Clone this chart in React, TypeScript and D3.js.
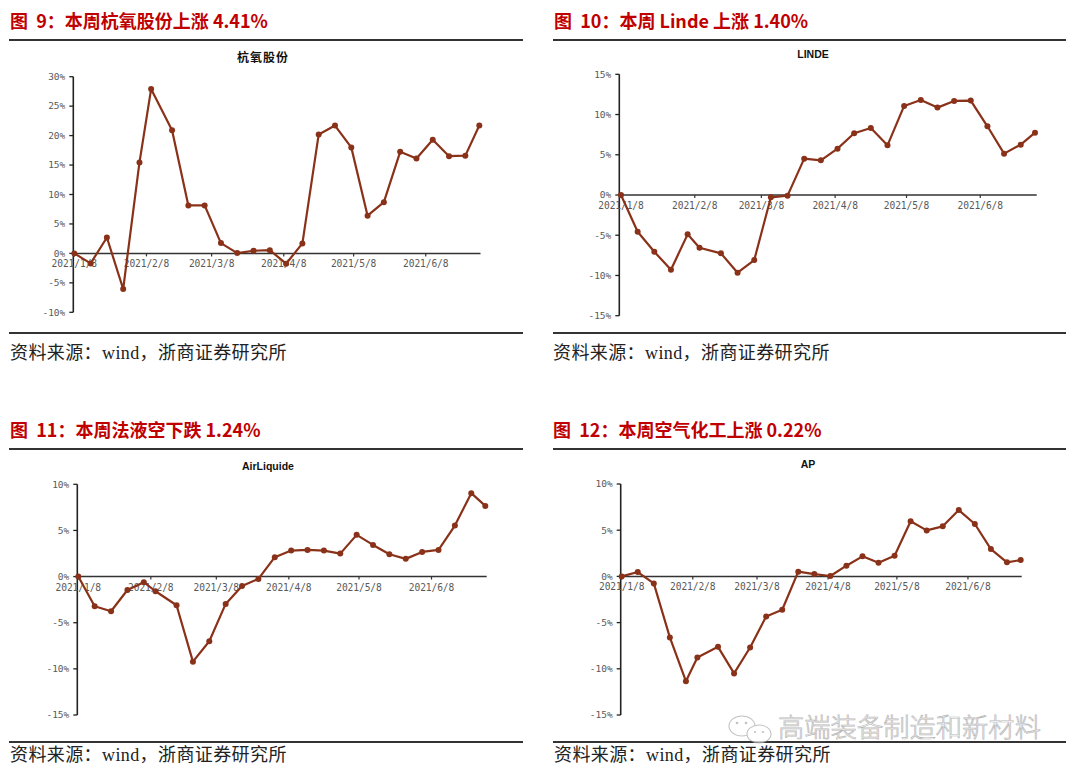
import React from "react";
import * as d3 from "d3";

const DATES = [
  "2021-01-08", "2021-01-15", "2021-01-22", "2021-01-29", "2021-02-05", "2021-02-10",
  "2021-02-19", "2021-02-26", "2021-03-05", "2021-03-12", "2021-03-19", "2021-03-26",
  "2021-04-02", "2021-04-09", "2021-04-16", "2021-04-23", "2021-04-30", "2021-05-07",
  "2021-05-14", "2021-05-21", "2021-05-28", "2021-06-04", "2021-06-11", "2021-06-18",
  "2021-06-25", "2021-07-01",
];
const X_TICKS = ["2021-01-08", "2021-02-08", "2021-03-08", "2021-04-08", "2021-05-08", "2021-06-08"];

const HANGYANG = [0, -1.7, 2.7, -6.05, 15.45, 27.9, 20.9, 8.15, 8.15, 1.75, 0.05, 0.45, 0.55, -1.75, 1.7, 20.2, 21.7, 18.0, 6.4, 8.7, 17.25, 16.1, 19.3, 16.5, 16.6, 21.7];
const LINDE = [0, -4.56, -7.05, -9.28, -4.89, -6.55, -7.25, -9.66, -8.08, -0.29, -0.08, 4.52, 4.31, 5.76, 7.67, 8.33, 6.17, 11.07, 11.81, 10.86, 11.69, 11.73, 8.54, 5.14, 6.26, 7.75];
const AIRLIQUIDE = [0, -3.22, -3.76, -1.45, -0.61, -1.59, -3.11, -9.22, -7.01, -2.96, -1.01, -0.25, 2.1, 2.82, 2.89, 2.82, 2.49, 4.52, 3.43, 2.42, 1.92, 2.67, 2.89, 5.53, 9.04, 7.66];
const AP = [0, 0.47, -0.76, -6.6, -11.34, -8.77, -7.62, -10.5, -7.69, -4.33, -3.61, 0.51, 0.25, 0.04, 1.16, 2.17, 1.48, 2.24, 5.96, 4.98, 5.42, 7.18, 5.67, 2.96, 1.52, 1.77];

const TICKS_HANGYANG = [-10, -5, 0, 5, 10, 15, 20, 25, 30];
const TICKS_LINDE = [-15, -10, -5, 0, 5, 10, 15];
const TICKS_AIRLIQUIDE = [-15, -10, -5, 0, 5, 10];
const TICKS_AP = [-15, -10, -5, 0, 5, 10];

const FIG_TITLES = [
  "图\u00a0\u00a09：本周杭氧股份上涨 4.41%",
  "图\u00a0\u00a010：本周 Linde 上涨 1.40%",
  "图\u00a0\u00a011：本周法液空下跌 1.24%",
  "图\u00a0\u00a012：本周空气化工上涨 0.22%",
];
const CHART_TITLES = ["杭氧股份", "LINDE", "AirLiquide", "AP"];

const LINE_COLOR = "#8A3219";
const RED = "#C00000";
const CJK = "'Noto Sans CJK SC', 'Noto Sans', sans-serif";
const MONO = "'DejaVu Sans Mono', 'Liberation Mono', monospace";

const parse = d3.timeParse("%Y-%m-%d");
const fmt = d3.timeFormat("%Y/%-m/%-d");

type Layout = {
  axisX: number;
  x0: number;
  x1: number;
  xEnd: number;
  yTop: number;
  yBot: number;
  titleX: number;
  titleY: number;
  chartTitleX: number;
  chartTitleY: number;
  ruleTop: number;
  ruleBot: number;
  ruleX0: number;
  ruleX1: number;
  sourceX: number;
  sourceY: number;
};

function Panel({ layout, values, ticks, figTitle, chartTitle, cjkTitle }: {
  layout: Layout; values: number[]; ticks: number[]; figTitle: string; chartTitle: string; cjkTitle: boolean;
}) {
  const L = layout;
  const x = d3.scaleTime()
    .domain([parse(DATES[0])!, parse(DATES[DATES.length - 1])!])
    .range([L.x0, L.x1]);
  const y = d3.scaleLinear()
    .domain([ticks[0], ticks[ticks.length - 1]])
    .range([L.yBot, L.yTop]);
  const pts = DATES.map((d, i) => [x(parse(d)!), y(values[i])] as [number, number]);
  const line = d3.line()(pts) || "";
  const y0 = y(0);
  return (
    <g>
      <text x={L.titleX} y={L.titleY} fill={RED} fontFamily={CJK} fontWeight={700} fontSize={18}>
        {figTitle}
      </text>
      <line x1={L.ruleX0} x2={L.ruleX1} y1={L.ruleTop} y2={L.ruleTop} stroke="#333" strokeWidth={2} />
      <text
        x={L.chartTitleX}
        y={L.chartTitleY}
        textAnchor="middle"
        fill="#111"
        fontFamily={cjkTitle ? CJK : "'Liberation Sans', Arial, sans-serif"}
        fontWeight={700}
        fontSize={cjkTitle ? 12 : 10.5}
        letterSpacing={cjkTitle ? 1 : 0}
      >
        {chartTitle}
      </text>
      {/* y axis */}
      <line x1={L.axisX} x2={L.axisX} y1={L.yTop} y2={L.yBot} stroke="#222" strokeWidth={1.6} />
      {ticks.map((t) => (
        <g key={t}>
          <line x1={L.axisX - 4} x2={L.axisX} y1={y(t)} y2={y(t)} stroke="#222" strokeWidth={1.3} />
          <text
            x={L.axisX - 8}
            y={y(t)}
            dy="0.35em"
            textAnchor="end"
            fill="#595959"
            fontFamily={MONO}
            fontSize={9.5}
          >
            {t + "%"}
          </text>
        </g>
      ))}
      {/* x axis at zero */}
      <line x1={L.axisX} x2={L.xEnd} y1={y0} y2={y0} stroke="#333" strokeWidth={1.5} />
      {X_TICKS.map((d) => {
        const xx = x(parse(d)!);
        return (
          <g key={d}>
            <line x1={xx} x2={xx} y1={y0} y2={y0 + 3} stroke="#333" strokeWidth={1.2} />
            <text
              x={xx}
              y={y0 + 14}
              textAnchor="middle"
              fill="#595959"
              fontFamily={MONO}
              fontSize={9.6}
              letterSpacing={-0.1}
            >
              {fmt(parse(d)!)}
            </text>
          </g>
        );
      })}
      <path d={line} fill="none" stroke={LINE_COLOR} strokeWidth={2.2} strokeLinejoin="round" />
      {pts.map((p, i) => (
        <circle key={i} cx={p[0]} cy={p[1]} r={3} fill={LINE_COLOR} />
      ))}
      <line x1={L.ruleX0} x2={L.ruleX1} y1={L.ruleBot} y2={L.ruleBot} stroke="#333" strokeWidth={2} />
      <text x={L.sourceX} y={L.sourceY} fill="#222" fontFamily={CJK} fontSize={18} letterSpacing={0.4}>
        资料来源：
        <tspan fontFamily="'Liberation Serif', serif">wind</tspan>
        ，浙商证券研究所
      </text>
    </g>
  );
}

const LAYOUTS: Layout[] = [
  {
    axisX: 73.3, x0: 74.3, x1: 479.3, xEnd: 480.5, yTop: 76.7, yBot: 312.3,
    titleX: 10, titleY: 28, chartTitleX: 263, chartTitleY: 62,
    ruleTop: 40, ruleBot: 333, ruleX0: 9, ruleX1: 523, sourceX: 10, sourceY: 359,
  },
  {
    axisX: 619.3, x0: 621, x1: 1035, xEnd: 1036.7, yTop: 74.3, yBot: 315.7,
    titleX: 554, titleY: 28, chartTitleX: 813, chartTitleY: 58,
    ruleTop: 40, ruleBot: 333, ruleX0: 553, ruleX1: 1066, sourceX: 553, sourceY: 359,
  },
  {
    axisX: 77.3, x0: 78.3, x1: 485.3, xEnd: 486.7, yTop: 484.3, yBot: 715,
    titleX: 10, titleY: 437, chartTitleX: 268, chartTitleY: 469.5,
    ruleTop: 449, ruleBot: 742, ruleX0: 9, ruleX1: 523, sourceX: 10, sourceY: 761,
  },
  {
    axisX: 620.7, x0: 621.7, x1: 1020.7, xEnd: 1021.7, yTop: 484, yBot: 715,
    titleX: 553, titleY: 437, chartTitleX: 808, chartTitleY: 468,
    ruleTop: 449, ruleBot: 742, ruleX0: 553, ruleX1: 1066, sourceX: 554, sourceY: 761,
  },
];

export default function App() {
  const series = [HANGYANG, LINDE, AIRLIQUIDE, AP];
  const ticks = [TICKS_HANGYANG, TICKS_LINDE, TICKS_AIRLIQUIDE, TICKS_AP];
  return (
    <svg
      width={1080}
      height={781}
      viewBox="0 0 1080 781"
      style={{ position: "absolute", left: 0, top: 0, background: "#fff" }}
    >
      <rect x={0} y={0} width={1080} height={781} fill="#fff" />
      {LAYOUTS.map((L, i) => (
        <Panel
          key={i}
          layout={L}
          values={series[i]}
          ticks={ticks[i]}
          figTitle={FIG_TITLES[i]}
          chartTitle={CHART_TITLES[i]}
          cjkTitle={i === 0}
        />
      ))}
      {/* watermark */}
      <g opacity={0.7}>
        <ellipse cx={742} cy={726} rx={13} ry={10} fill="#fff" stroke="#aaa" strokeWidth={1.1} />
        <ellipse cx={759} cy={734} rx={12} ry={9} fill="#fff" stroke="#aaa" strokeWidth={1.1} />
        <circle cx={737} cy={723} r={1.3} fill="#aaa" />
        <circle cx={746} cy={723} r={1.3} fill="#aaa" />
        <circle cx={755} cy={732} r={1.1} fill="#aaa" />
        <circle cx={763} cy={732} r={1.1} fill="#aaa" />
        <text
          x={778}
          y={737}
          fontFamily={CJK}
          fontSize={26.3}
          fontWeight={300}
          fill="#fff"
          fillOpacity={0.6}
          stroke="#999"
          strokeWidth={0.7}
        >
          高端装备制造和新材料
        </text>
      </g>
    </svg>
  );
}
